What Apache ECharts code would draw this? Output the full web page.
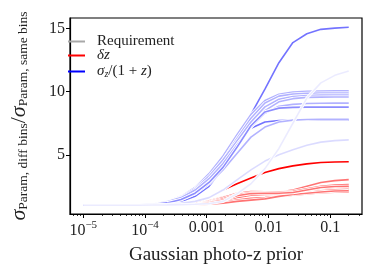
<!DOCTYPE html>
<html><head><meta charset="utf-8">
<script src="https://cdn.jsdelivr.net/npm/echarts@6/dist/echarts.min.js"></script>
<style>html,body{margin:0;padding:0;background:#fff}#c{width:374px;height:270px}</style>
</head><body><div id="c"></div>
<script>
// ---- data ----
const xPrior = [1.000e-5, 1.684e-5, 2.836e-5, 4.776e-5, 8.045e-5, 1.355e-4, 2.282e-4, 3.843e-4, 6.473e-4, 1.090e-3,
                1.837e-3, 3.093e-3, 5.209e-3, 8.773e-3, 1.478e-2, 2.489e-2, 4.193e-2, 7.061e-2, 1.189e-1, 2.000e-1];
const requirement = 0.002;

const dz1 = [1,1,1,1,1,1,1.02,1.08,1.25,1.6,2.2,2.7,3.15,3.6,3.9,4.12,4.28,4.38,4.43,4.45];
const dz2 = [1,1,1,1,1,1,1.01,1.04,1.12,1.35,1.65,1.9,2.0,2.02,2.05,2.2,2.5,2.8,2.95,3.03];
const dz3 = [1,1,1,1,1,1,1.01,1.03,1.1,1.28,1.6,1.95,2.08,2.07,2.05,2.1,2.3,2.5,2.6,2.64];
const dz4 = [1,1,1,1,1,1,1,1.02,1.08,1.22,1.5,1.85,1.98,1.97,1.92,1.95,2.1,2.3,2.4,2.43];
const dz5 = [1,1,1,1,1,1,1,1.02,1.06,1.15,1.3,1.6,1.8,1.85,1.85,1.9,2.0,2.15,2.22,2.25];
const dz6 = [1,1,1,1,1,1,1,1.01,1.04,1.1,1.2,1.4,1.55,1.6,1.7,1.8,1.9,1.98,2.02,2.04];
const dz7 = [1,1,1,1,1,1,1,1.01,1.03,1.08,1.15,1.3,1.4,1.5,1.7,1.85,1.95,2.05,2.12,2.15];
const dz8 = [1,1,1,1,1,1,1,1.02,1.06,1.18,1.4,1.75,1.92,1.95,1.95,2.0,2.2,2.4,2.48,2.5];

const sz1 = [1,1,1,1,1.02,1.05,1.12,1.3,1.7,2.5,3.9,5.9,8.2,10.2,12.3,13.9,14.6,14.95,15.05,15.12];
const sz2 = [1,1,1,1,1.03,1.07,1.2,1.5,2.0,2.9,4.2,6.0,7.1,7.6,7.72,7.74,7.74,7.74,7.74,7.74];
const sz3 = [1,1,1,1.02,1.05,1.12,1.3,1.7,2.4,3.5,4.9,6.6,8.2,9.3,9.8,9.97,10.03,10.05,10.07,10.07];
const sz4 = [1,1,1,1.02,1.04,1.1,1.25,1.6,2.2,3.2,4.6,6.3,7.9,9.1,9.65,9.82,9.87,9.9,9.9,9.9];
const sz5 = [1,1,1,1.02,1.04,1.1,1.28,1.65,2.3,3.3,4.6,6.1,7.6,8.8,9.4,9.62,9.7,9.73,9.74,9.74];
const sz6 = [1,1,1,1.01,1.03,1.08,1.2,1.5,2.0,2.9,4.1,5.6,7.2,8.5,9.2,9.45,9.55,9.57,9.58,9.58];
const sz7 = [1,1,1,1.02,1.04,1.1,1.27,1.6,2.2,3.1,4.3,5.8,7.2,8.3,8.85,9.0,9.07,9.09,9.1,9.1];
const sz8 = [1,1,1,1.01,1.03,1.07,1.18,1.45,1.95,2.8,4.0,5.6,7.3,8.4,8.7,8.76,8.78,8.78,8.78,8.78];
const sz9 = [1,1,1,1.01,1.03,1.07,1.18,1.42,1.9,2.7,3.8,5.1,6.4,7.2,7.6,7.75,7.8,7.82,7.82,7.82];
const sz10 = [1,1,1,1,1.01,1.03,1.07,1.15,1.3,1.6,2.2,3.0,3.8,4.5,5.0,5.4,5.75,6.0,6.12,6.18];
const sz11 = [1,1,1,1,1,1.01,1.02,1.04,1.07,1.12,1.3,1.9,2.7,3.9,5.5,7.5,9.5,10.7,11.3,11.65];

const majorTicks = [1e-5, 1e-4, 1e-3, 1e-2, 1e-1];
const tickBase = ['10', '10', '0.001', '0.01', '0.1'];
const tickExp = ['−5', '−4', '', '', ''];
const minorTicks = [7e-6,8e-6,9e-6,
  2e-5,3e-5,4e-5,5e-5,6e-5,7e-5,8e-5,9e-5,
  2e-4,3e-4,4e-4,5e-4,6e-4,7e-4,8e-4,9e-4,
  2e-3,3e-3,4e-3,5e-3,6e-3,7e-3,8e-3,9e-3,
  2e-2,3e-2,4e-2,5e-2,6e-2,7e-2,8e-2,9e-2,
  0.2,0.3];
const yTicks = [5, 10, 15];

// ---- style ----
const FONT = 'Liberation Serif';
const redCurves = [[dz2,0.55],[dz3,0.55],[dz4,0.55],[dz5,0.55],[dz6,0.55],[dz7,0.55],[dz8,0.55],[dz1,1]];
const blueCurves = [[sz2,0.55],[sz1,0.55],[sz3,0.3],[sz4,0.3],[sz5,0.3],[sz6,0.3],[sz7,0.3],[sz9,0.3],[sz8,0.45],[sz10,0.14],[sz11,0.08]];

const series = [];
function addCurve(vals, color, alpha, name) {
  const data = xPrior.map((x, i) => [x, vals[i]]);
  series.push({type:'line', data, showSymbol:false, silent:true, animation:false,
    lineStyle:{color:'#fff', width:3.2}, itemStyle:{color:'#fff'}, z:2});
  series.push({type:'line', name, data, showSymbol:false, silent:true, animation:false,
    lineStyle:{color, width:1.6, opacity:alpha}, itemStyle:{color}, z:2});
}
redCurves.forEach(([v,a]) => addCurve(v, '#ff0000', a, 'δz'));
blueCurves.forEach(([v,a]) => addCurve(v, '#0000ff', a, 'σz'));
series.push({type:'line', name:'Requirement', data:[], itemStyle:{color:'#999'}, lineStyle:{color:'#999'},
  markLine:{silent:true, symbol:['none','none'], label:{show:false}, animation:false,
    lineStyle:{color:'#999', width:1.2, type:'solid'}, data:[{xAxis: requirement}]}, z:1});

function fmtX(v) {
  let best = 0, bd = 1e9;
  majorTicks.forEach((t, i) => { const d = Math.abs(Math.log10(v) - Math.log10(t)); if (d < bd) { bd = d; best = i; } });
  return tickExp[best] ? '{b|' + tickBase[best] + '}{sup|' + tickExp[best] + '}' : '{b|' + tickBase[best] + '}';
}

const legendText = {fontFamily: FONT, fontSize: 15, color: '#222', padding:[0,0,0,7],
  rich: {
    n: {fontFamily: FONT, fontSize: 15, color: '#222'},
    i: {fontFamily: FONT, fontSize: 15, fontStyle: 'italic', color: '#222'},
    isub: {fontFamily: FONT, fontSize: 10, fontStyle: 'italic', color: '#222', verticalAlign:'bottom', lineHeight: 12}
  }};
function mkLegend(name, top, color, fmt) {
  return {show:true, left:68, top, orient:'vertical', padding:0, itemWidth:17, itemHeight:2, selectedMode:false,
    data:[{name, icon:'rect', itemStyle:{color, opacity:1}}], textStyle: legendText, formatter: () => fmt};
}

const chart = echarts.init(document.getElementById('c'), null, {renderer:'canvas'});
chart.setOption({
  animation:false,
  backgroundColor:'#fff',
  grid:{left:54, top:18, width:308, height:200, show:true, borderColor:'#000', borderWidth:1.2, backgroundColor:'transparent'},
  legend:[
    mkLegend('Requirement', 34, '#a8a8a8', '{n|Requirement}'),
    mkLegend('δz', 48, '#ff0000', '{i|δz}'),
    mkLegend('σz', 64, '#0000ff', '{i|σ}{isub|z}{n|/(1 + }{i|z}{n|)}')
  ],
  xAxis:[{
    type:'log', logBase:10, min:6.095e-6, max:0.328, gridIndex:0, position:'bottom',
    axisLine:{show:true, lineStyle:{color:'#000', width:1.2}},
    axisTick:{show:true, inside:false, length:4, lineStyle:{color:'#000', width:1}, customValues: majorTicks},
    axisLabel:{show:true, margin:6, customValues: majorTicks, formatter: fmtX,
      rich:{b:{fontFamily:FONT, fontSize:16, color:'#222', verticalAlign:'bottom'},
            sup:{fontFamily:FONT, fontSize:11, color:'#222', verticalAlign:'bottom', padding:[0,0,8,0]}}},
    splitLine:{show:false}, minorTick:{show:false},
    name:'Gaussian photo-z prior', nameLocation:'middle', nameGap:32,
    nameTextStyle:{fontFamily:FONT, fontSize:19, color:'#222'}
  },{
    type:'log', logBase:10, min:6.095e-6, max:0.328, gridIndex:0, position:'bottom',
    axisLine:{show:false},
    axisTick:{show:true, inside:false, length:2, lineStyle:{color:'#000', width:0.8}, customValues: minorTicks},
    axisLabel:{show:false}, splitLine:{show:false}
  }],
  yAxis:{
    type:'value', min:0.3, max:15.85,
    axisLine:{show:true, lineStyle:{color:'#000', width:1.2}},
    axisTick:{show:true, inside:false, length:4, lineStyle:{color:'#000', width:1}, customValues: yTicks},
    axisLabel:{show:true, margin:5, customValues: yTicks, fontFamily:FONT, fontSize:16, color:'#222'},
    splitLine:{show:false},
    name:'{s|σ}{sub|Param, diff bins}{sl|/}{s|σ}{sub|Param, same bins}',
    nameLocation:'middle', nameRotate:90, nameGap:40,
    nameTextStyle:{
      rich:{
        s:{fontFamily:FONT, fontSize:22, fontStyle:'italic', color:'#222', verticalAlign:'bottom', lineHeight:24},
        sub:{fontFamily:FONT, fontSize:13.5, color:'#222', verticalAlign:'bottom', lineHeight:14},
        sl:{fontFamily:FONT, fontSize:22, color:'#222', verticalAlign:'bottom', lineHeight:24}
      }
    }
  },
  series
});
</script></body></html>
